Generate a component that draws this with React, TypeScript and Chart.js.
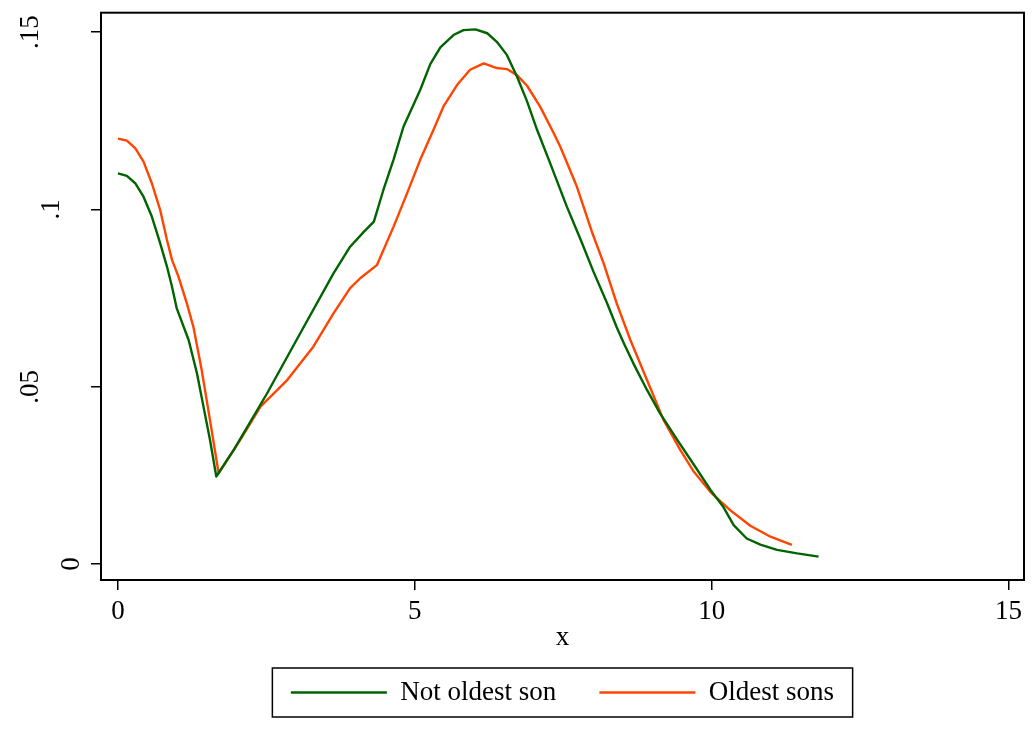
import React, { useEffect, useRef } from "react";
import { Chart, registerables } from "chart.js";

Chart.register(...registerables);

const notOldestX = [0.0, 0.15, 0.29, 0.43, 0.57, 0.71, 0.825, 0.91, 0.99, 1.19, 1.33, 1.44, 1.55, 1.656, 1.95, 2.51, 3.07, 3.63, 3.91, 4.14, 4.31, 4.47, 4.64, 4.81, 5.09, 5.26, 5.43, 5.65, 5.82, 6.02, 6.22, 6.38, 6.55, 6.72, 6.89, 7.06, 7.28, 7.56, 7.8, 8.01, 8.24, 8.4, 8.52, 8.68, 8.91, 9.13, 9.42, 9.72, 9.98, 10.2, 10.37, 10.59, 10.82, 11.1, 11.44, 11.8];
const notOldestY = [0.1102, 0.1095, 0.1074, 0.1036, 0.098, 0.0905, 0.0839, 0.0782, 0.0721, 0.0632, 0.0538, 0.0444, 0.035, 0.0247, 0.0322, 0.0481, 0.0651, 0.082, 0.0895, 0.0937, 0.0966, 0.1055, 0.114, 0.1234, 0.1337, 0.141, 0.1457, 0.1492, 0.1506, 0.1508, 0.1497, 0.1473, 0.1436, 0.1375, 0.1305, 0.1224, 0.113, 0.1008, 0.0912, 0.0824, 0.0735, 0.0668, 0.0623, 0.0566, 0.0491, 0.0425, 0.035, 0.0275, 0.0209, 0.016, 0.011, 0.0072, 0.0055, 0.004, 0.003, 0.0021];

const oldestX = [0.0, 0.15, 0.29, 0.43, 0.57, 0.71, 0.825, 0.91, 1.02, 1.16, 1.27, 1.41, 1.55, 1.695, 2.06, 2.4, 2.85, 3.29, 3.63, 3.91, 4.08, 4.36, 4.64, 4.87, 5.09, 5.32, 5.48, 5.71, 5.93, 6.16, 6.38, 6.55, 6.72, 6.89, 7.11, 7.34, 7.45, 7.73, 7.98, 8.18, 8.4, 8.63, 8.91, 9.19, 9.47, 9.7, 9.98, 10.31, 10.65, 10.99, 11.35];
const oldestY = [0.12, 0.1194, 0.1173, 0.1135, 0.1074, 0.0999, 0.0914, 0.0858, 0.081, 0.0735, 0.0669, 0.0547, 0.0406, 0.0256, 0.035, 0.0444, 0.0519, 0.0613, 0.0707, 0.0778, 0.0806, 0.0843, 0.0951, 0.1046, 0.114, 0.1227, 0.129, 0.1351, 0.1394, 0.1412, 0.1399, 0.1396, 0.1379, 0.1349, 0.129, 0.1215, 0.1177, 0.1064, 0.0938, 0.0848, 0.0735, 0.0632, 0.0519, 0.0406, 0.0322, 0.026, 0.0203, 0.0152, 0.0108, 0.0077, 0.0054];

const seriesLabels = ["Not oldest son", "Oldest sons"];
const seriesColors = ["#006400", "#FF4500"];

const xTickValues = [0, 5, 10, 15];
const xTickLabels = ["0", "5", "10", "15"];
const yTickValues = [0, 0.05, 0.1, 0.15];
const yTickLabels = ["0", ".05", ".1", ".15"];
const xTitle = "x";

const FONT = "'Liberation Serif', 'Times New Roman', serif";

export default function App() {
  const ref = useRef<HTMLCanvasElement>(null);

  useEffect(() => {
    const canvas = ref.current;
    if (!canvas) return;

    const framePlugin = {
      id: "stataFrame",
      beforeDraw(chart: any) {
        const { ctx, width, height } = chart;
        ctx.save();
        ctx.fillStyle = "#ffffff";
        ctx.fillRect(0, 0, width, height);
        ctx.restore();
      },
      afterDraw(chart: any) {
        const { ctx, chartArea: a } = chart;
        ctx.save();
        ctx.strokeStyle = "#000";
        ctx.lineWidth = 2;
        ctx.strokeRect(a.left, a.top, a.right - a.left, a.bottom - a.top);

        // vertical y-axis tick labels, Stata style (reading upward)
        const ys = chart.scales.y;
        ctx.fillStyle = "#000";
        ctx.font = `27px ${FONT}`;
        ctx.textAlign = "center";
        ctx.textBaseline = "alphabetic";
        yTickValues.forEach((v, i) => {
          const label = yTickLabels[i];
          const py = ys.getPixelForValue(v);
          const bx = ys.right - 2 - 20.25 * label.length;
          ctx.save();
          ctx.translate(bx, py);
          ctx.rotate(-Math.PI / 2);
          ctx.fillText(label, 0, 0);
          ctx.restore();
        });

        const boxes = chart.legend && chart.legend.legendHitBoxes;
        if (boxes && boxes.length) {
          const first = boxes[0];
          const last = boxes[boxes.length - 1];
          const cy = first.top + first.height / 2;
          const l = first.left - 18.5;
          const r = last.left + last.width + 18.5;
          ctx.lineWidth = 1.5;
          ctx.strokeRect(l, cy - 24.5, r - l, 49);
        }
        ctx.restore();
      },
    };

    const makeData = (xs: number[], ys: number[]) => xs.map((x, i) => ({ x, y: ys[i] }));

    const chart = new Chart(canvas, {
      type: "scatter",
      data: {
        datasets: [
          {
            label: seriesLabels[0],
            data: makeData(notOldestX, notOldestY),
            borderColor: seriesColors[0],
            backgroundColor: seriesColors[0],
            showLine: true,
            pointRadius: 0,
            borderWidth: 2.4,
            tension: 0,
            borderJoinStyle: "round",
          },
          {
            label: seriesLabels[1],
            data: makeData(oldestX, oldestY),
            borderColor: seriesColors[1],
            backgroundColor: seriesColors[1],
            showLine: true,
            pointRadius: 0,
            borderWidth: 2.4,
            tension: 0,
            borderJoinStyle: "round",
          },
        ],
      },
      options: {
        animation: false,
        responsive: false,
        devicePixelRatio: 1,
        layout: { padding: { top: 12.7, right: 9, bottom: 14, left: 0 } },
        plugins: {
          tooltip: { enabled: false },
          legend: {
            position: "bottom",
            fullSize: false,
            labels: {
              usePointStyle: true,
              pointStyle: "line",
              pointStyleWidth: 96,
              boxHeight: 27,
              padding: 43,
              color: "#000",
              font: { size: 27, family: FONT },
            },
          },
        },
        scales: {
          x: {
            type: "linear",
            min: -0.286,
            max: 15.26,
            afterBuildTicks: (s: any) => {
              s.ticks = xTickValues.map((v) => ({ value: v }));
            },
            afterFit: (s: any) => {
              s.height = 56;
              s.paddingLeft = 0;
              s.paddingRight = 0;
            },
            grid: { drawOnChartArea: false, drawTicks: true, tickLength: 10, color: "#000", lineWidth: 1.5 },
            border: { display: false },
            ticks: {
              padding: 6,
              color: "#000",
              autoSkip: false,
              maxRotation: 0,
              font: { size: 27, family: FONT },
              callback: (v: any) => {
                const i = xTickValues.indexOf(v);
                return i >= 0 ? xTickLabels[i] : "";
              },
            },
            title: {
              display: true,
              text: xTitle,
              color: "#000",
              font: { size: 27, family: FONT },
              padding: { top: 0, bottom: -18 },
            },
          },
          y: {
            type: "linear",
            min: -0.0045,
            max: 0.1555,
            afterBuildTicks: (s: any) => {
              s.ticks = yTickValues.map((v) => ({ value: v }));
            },
            afterFit: (s: any) => {
              s.width = 101;
              s.paddingTop = 0;
              s.paddingBottom = 0;
            },
            grid: { drawOnChartArea: false, drawTicks: true, tickLength: 10, color: "#000", lineWidth: 1.5 },
            border: { display: false },
            ticks: {
              display: false,
              autoSkip: false,
              callback: (v: any) => {
                const i = yTickValues.indexOf(v);
                return i >= 0 ? yTickLabels[i] : "";
              },
            },
          },
        },
      },
      plugins: [framePlugin],
    } as any);

    return () => chart.destroy();
  }, []);

  return (
    <div style={{ position: "fixed", left: 0, top: 0, width: 1033, height: 730, background: "#fff" }}>
      <canvas ref={ref} width={1033} height={730} style={{ display: "block" }} />
    </div>
  );
}
